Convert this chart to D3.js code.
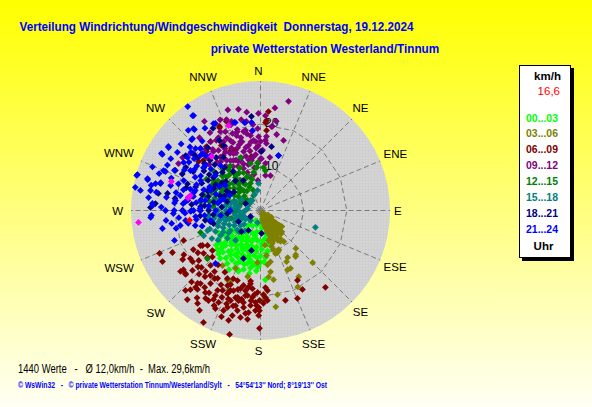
<!DOCTYPE html>
<html><head><meta charset="utf-8">
<script src="https://cdn.jsdelivr.net/npm/d3@7"></script>
<style>html,body{margin:0;padding:0;overflow:hidden;background:#fff}</style>
</head><body>
<svg id="c" width="592" height="407"></svg>
<script>
// ---------- data ----------
const titleText = "Verteilung Windrichtung/Windgeschwindigkeit  Donnerstag, 19.12.2024";
const stationText = "private Wetterstation Westerland/Tinnum";
const compassLabels = ["N","NNE","NE","ENE","E","ESE","SE","SSE","S","SSW","SW","WSW","W","WNW","NW","NNW"];
const ringValues = [10, 20];
const maxSpeed = 30;
const hourLabels = ["00...03","03...06","06...09","09...12","12...15","15...18","18...21","21...24"];
const unitLabel = "km/h";
const currentLabel = "16,6";
const hourUnit = "Uhr";
const statsText = "1440 Werte   -   \u00D8 12,0km/h  -  Max. 29,6km/h";
const creditText = "\u00A9 WsWin32   -   \u00A9 private Wetterstation Tinnum/Westerland/Sylt   -   54\u00B054'13'' Nord; 8\u00B019'13'' Ost";

// [direction deg, speed km/h]
const h00_03 = [[205,2.6],[165,2.5],[185,3],[195,3.5],[175,4],[210,4],[220,4.5],[168,5.5],[180,5],[190,5],[200,5.5],[212,6],[225,6.5],[235,8],[242,11],[240,10],[238,9],[230,7.5],[222,7],[215,7.5],[205,7],[195,7],[185,7],[175,7],[168,8],[170,9.5],[178,9],[186,8.5],[194,8.5],[202,8.5],[210,9],[218,9],[226,9.5],[232,10],[236,11.5],[230,12],[225,11.5],[220,10.5],[212,10.5],[204,10],[196,10],[188,10.5],[180,10.5],[174,11],[183,12],[190,12],[198,11.5],[206,12],[214,12.5],[222,13],[228,13.5],[220,14.5],[212,14.5],[205,13.5],[197,13],[190,13.5],[184,14],[200,15],[208,15.5],[201,14.7],[176,16.1],[186,12.6],[216,11.5],[208,11],[193,11.5],[180,12],[200,9.5],[192,6],[216,5.5],[170,6.5],
  [188,6.8],[196,7.5],[204,7.8],[212,8],[220,8.2],[228,8.8],[186,9.5],[192,9.2],[198,9],[206,9.5],[214,9.8],[222,10],[184,11],[194,10.8],[202,11],[210,11.8],[218,12],[226,12.5],[232,13],[188,12.8],[194,12.6],[202,12.8],[210,13.2],[216,13.6],[224,14],[196,14.2],[204,14.5],[190,14.8],[182,13],[176,12],[172,10],[178,7.8],[236,10],[228,11],[218,6.5],[208,6.8]];
const h03_06 = [[150,0.8],[150,1.6],[148,2.4],[146,3.2],[145,4],[143,4.8],[141,5.6],[140,6.4],[138,7.2],[132,1.5],[131,2.5],[130,3.5],[129,4.5],[128,5.5],[127,6.2],[160,1.5],[158,2.5],[157,3.5],[155,4.5],[154,5.5],[152,6.5],[151,7.4],[168,2],[166,3],[164,4],[162,5],[160,6],[158,7],[120,2],[122,3],[138,3],[136,5],[145,6],[150,8],[142,6.5],[137,12],[141.5,13.1],[158,10.5],[150,12.6],[135,17.1],[150,17.7],[170.7,14.4],[173,15.5],[168.6,19.9],[171,22.6],[178,20.7],[192,21.2],[203,17.9],[205.6,17.8],[183.3,12.1],[191,15.6],[169.3,16.3],[172.6,12.7],[155.4,15.1],[154,19.7],[169,12.1],[155,10],[147,8.5],[139.4,6.4],[142.7,13.4],[155.8,10.2],[165,7.2],[172.6,8.1],[163,8.7],[172.4,10.5],[160.8,10.6],[153,13.3],[152.6,15.1],[203.3,14.6],[214.6,15.5],[201.8,20],
  [149,1.2],[147,2],[146,2.8],[145,3.6],[144,4.4],[142,5.2],[141,6],[139,6.8],[134,1],[133,2],[131,3],[130,4],[129,5],[128,6],[159,1],[159,2],[157,3],[156,4],[155,5],[153,6],[152,7],[167,2.5],[165,3.5],[163,4.5],[161,5.5],[159,6.5],[157,7.5],[140,2],[138,4],[136,6],[135,7],[150,4],[150,5],[149,6],[148,7],[145,8],[143,9],[160,8],[162,9.5]];
const h06_09 = [[247,25.4],[242.5,25.6],[244.5,22.6],[237.8,21.3],[235.6,19.7],[233,19.7],[231,18.4],[239.7,16.1],[236.6,14.7],[226,19],[222,19],[217.6,19],[232.7,23.3],[229.5,22.8],[219.4,21.9],[213.9,22.9],[214.4,20.5],[212.3,18.6],[208.3,21],[207.8,23.3],[214.1,26],[211.4,27.1],[223.2,25.4],[219.4,26.7],[207,29.1],[200.2,26.2],[196.2,26.5],[194,29.6],[189.9,22.8],[188.3,24.1],[186.7,23.8],[188.9,18],[187.8,17.1],[185.9,18.2],[181,24.3],[180.5,27.3],[180.6,20.8],[182,19],[176.3,17.9],[176.7,20.2],[175,18.6],[194.8,20.8],[193.7,21.5],[194.4,18.7],[201.7,17],[198.2,17.1],[200.6,19.8],[194.7,22.8],[198.8,23.7],[198.4,22],[204.5,23.4],[200.3,24.7],[204.7,25],[210,24.1],[222.3,17.2],[217,17.7],[233,16.5],[228.4,16.4],[230.2,14.5],[232.5,22.5],[228.6,21],[220.8,22.3],[221.5,24.5],[218.6,23.4],[205.4,20.5],[203.7,19],[201.7,20.7],[198.6,19.6],[192.8,17.8],[190.6,18.9],[185.3,20.2],[182.4,22],[178.2,21.5],[175.6,20.9],[183.1,21.3],[186,22.1],[188.7,19.9],[164.5,21.6],[152.1,18.3],[152,20.7],[157.2,22.1],[139.8,23.3],[180.6,23.2],[182.9,23.2],[190.5,21.7],[193,23.8],[195,25.2],[190.6,25.2],[186.8,25.4],[239.8,18],[238.9,15.7],[230,22.7],[220.2,23.3],[248.7,19.1],
  [190,20],[192,21],[196,21],[200,21.8],[204,22],[208,22.3],[212,22.5],[216,22],[220,20],[224,20.5],[228,19.5],[196,23],[200,23],[206,24.5],[212,24],[216,25],[224,23],[184,19.5],[186,21],[196,19],[202,18.5],[208,19.5],[214,19],[206,17.5],[210,16.5],[218,16],[226,15.5],[188,16.5],[181,22.5],[178,19.5],[236,17.5],[240,20.5],
  [4.6,23],[3.8,20.9],[3.3,20.4],[4.3,18.6],[333.7,21.4],[319.8,19.4],[317.5,18.5],[329,17.6],[337.4,15.1],[350.5,12.7],[308.3,18.3],[311.3,17.6],[333.4,15.5],[339.1,22.1],[334,21.7],[324,19.7]];
const h09_12 = [[14.4,26.1],[347.7,24],[327.8,24.4],[339.5,22.5],[342,21.7],[350.3,20.7],[358.8,22.5],[358.5,17.1],[4,16.3],[7.5,19.6],[18.2,17.1],[5,15.6],[0,13.7],[349.8,11.8],[342.3,18.2],[347.9,18.7],[352.4,17.5],[343.8,16.6],[336.8,17.6],[331.8,18.1],[327.8,19.2],[324,19.7],[315.9,20],[310.4,20.4],[321.5,17.5],[326,15.4],[334.7,14.6],[344,14.2],[349.5,15.3],[320.8,14.6],[329,13.5],[338.2,12.5],[8.1,19.7],[4.6,17.2],[16,8.4],[1,12],[354.3,16.3],[351,20.9],[349.4,18.9],[343.5,19],[299.8,21.9],[309.2,20.9],[304.2,21.8],[331.6,13.2],[341,9.3],[326.3,8.4],[343,8],[8.1,8.2],[0,12],[335,16],[340,15.5],[345,16.5],[350,14],[355,13],[330,16.5],[325,17],[320,16],[318,15],[322,13],[328,12],[333,11.5],[338,10.5],[345,11],[352,10],[357,11],[340,13],[345,13],[336,12.5],[330,10],[325,11],[315,17.5],[312,16],[335,18.5],[340,19],[330,19.5],[345,17.5],[352,16],[356,14.5],[2,14],[358,19],[355,20],[348,21.5],[333,20.5],[327,21.5],[320,22],[336,23],[342,24.5],[352,23],[3,22],[8,24],[10,21],[12,18],[6,11],[10,12.5],[350,8.5],[355,7],
  [332,15],[337,14.5],[342,16],[347,15],[352,12.5],[356,16],[326,14],[322,18],[318,19],[338,17],[344,19.5],[350,18],[334,13],[340,11.5],[347,12],[331,17],[336,20],[341,21],[329,15.8],[323,15.5],[354,18.5],[0,16],[358,15]];
const h12_15 = [[300,10],[305,9],[310,8],[315,7],[320,6],[325,5.5],[330,7],[335,6],[340,5],[300,7],[295,8.5],[290,10],[285,11],[280,12],[275,11],[270,10],[265,9],[260,8],[270,7],[280,8],[290,6.5],[298,5],[305,4.5],[312,5],[318,9],[325,8.5],[330,10],[320,11],[312,12],[305,12],[298,12.5],[292,13],[285,13.5],[278,14],[300,14.5],[310,14],[318,13],[326,12.5],[334,11],[340,8.5],[345,7.5],[350,9],[355,10],[295,4],[285,5],[275,5.5],[265,6],[255,7],[4,10],[7,9.3],[348,11.1],[334.9,8.2],[339.7,6.7],[302.6,12.9],[339.3,13.1],[356.4,11.1],[322.9,9.6],[335.9,9.6],[313.4,11.8],[299.9,12.6],[307,16.5],[335,3.8],[307.6,3.8],[249.9,14.8],[227.8,16.6],
  [295,10],[300,9],[305,10.5],[310,9.5],[315,9],[320,8],[325,10],[290,12],[295,11.5],[300,12],[308,11],[315,11],[322,12],[285,9.5],[290,8],[280,10.5],[310,6.5],[318,7],[328,7.5],[302,6]];
const h15_18 = [[240,7],[245,8],[250,9],[255,10],[260,11],[265,12],[270,10],[275,9],[280,8],[285,7],[290,6],[260,6],[255,5],[250,4],[240,4],[230,5],[225,7],[230,10],[235,12],[240,13],[245,11.5],[250,12.5],[262,8.5],[268,7],[276,6],[283,10],[290,9.5],[295,8],[300,5],[265,4],[278,3],[300,3],[320,3],[340,4],[235,3],[220,9],[218,6],[245,5],[258,9.5],[272,12],[282,11.1],[194,2.9],[238,10.9],[236.3,8.4],[233.1,5.8],[225,3.3],[270,3.5],[281.3,5.9],[286,8.4],[263.7,10.5],[254,8.4],[248.2,6.2],[315,3.3],[351.5,4.7],[355.8,6.3],[249.3,13.1],[107,13.3],[246,14.4],
  [245,9.5],[250,10.5],[255,7.5],[260,9],[265,10],[270,8],[275,7],[240,10],[235,9],[230,7],[245,6.5],[252,6],[258,4.5],[268,5],[280,5],[288,6.5],[262,12.5]];
const h18_21 = [[290,10],[295,12],[300,14],[305,16],[310,17],[315,15],[320,13],[325,11],[285,12.5],[280,14],[275,16],[270,18],[290,16],[300,18],[310,20],[320,19],[330,22],[300,9],[310,10.5],[320,9],[330,8],[285,8],[275,9],[265,11],[270,14],[295,20],[287,18],[278,20],[315,12.5],[305,11],[9.8,15],[18.1,13.4],[354.5,21.9],[1,13.7],[306.3,21.5],[295.2,21.8],[285.1,24],[279.5,24],[280.4,21.9],[273.8,24.4],[271.6,25.5],[329.6,18.8],[310,19],[330.4,17.3],[305,13.3],[299.5,8],[264.8,7.7],[257.6,11.9],[211,5.4],[243.4,5.7],[239,2.7],[273.8,13.9],[281.8,15.9],[295,3.8],[254.5,11.3],[222,6.6],[192.7,9.5],[199.5,11.8],[177.5,5.3],
  [285,14],[290,13],[295,15],[300,12],[305,14.5],[280,11],[275,13],[270,12],[265,14],[290,18],[300,20],[310,13.5],[315,16.5],[320,16],[325,15],[280,17],[270,16],[260,13],[292,9],[305,7.5]];
const h21_24 = [[304.8,26],[300,26.5],[286.3,29.7],[280.5,29.5],[279.5,28.2],[285.3,27.1],[276.6,26.1],[272.7,25],[284.4,25.1],[285.6,24],[292.3,23.8],[306,20.9],[320.7,24.5],[313.6,20.8],[314.5,18.8],[332.6,22.7],[325,29.4],[324.4,27],[331.6,22.9],[315.8,22.9],[304.4,25.8],[299.7,26.2],[285.8,29.8],[285.8,27.2],[292.4,24.3],[280.3,25.9],[273.7,25.1],[344,21.2],[349.7,20.7],[354.3,18.6],[18.1,13.4],[324.8,26.9],[320.8,24.2],[343.5,21.3],[354.2,20.5],[316.6,22.9],[317.7,17.2],[266.4,25.5],[267.4,25.3],[259.6,23.1],[261.7,20.8],[250.8,21.1],[259.4,18.9],[268,20.2],[220.3,16.1],[276.8,17.5],[264.7,15.1],[269.2,16.2],[296.6,15.5],[291.8,12.5],[284,9.5],[281.9,16.4],[270,13.9],[258.7,11.8],[262.4,17.5],[299.7,18.7],[309.3,16.5],[307.9,13.2],[305.5,10],[262.9,9.3],[270,7],[287.1,15.8],[280.3,13],[291.3,19.1],[280.6,18.9],[270,18.1],[257,15.5],[285.5,21.6],[276.7,19.8],[270,22],[270,10.4],[312.5,18.9],[318.4,13.9],[275,12],[280,14],[285,16],[290,14],[295,13],[300,16],[305,18],[310,15],[300,11],[290,11],[280,10],[275,18],[270,20],[265,19],[260,17],[255,14],[288,20],[295,22],[305,23.5],[312,22],[320,21],[278,22],[283,26],[292,27],[296,24],[302,21],[308,19.5],[315,18],[287,9],[296,8],
  [272,14],[277,15],[282,16],[287,17],[292,16],[297,17],[302,18],[307,16.5],[265,13],[270,15.5],[275,20],[282,20],[290,22],[298,20],[304,20],[310,21],[316,20],[285,18.5],[278,17],[268,17.5],[262,15],[258,20],[264,22],[272,23],[280,24.5],[290,25],[300,24],[310,24],[318,25],[326,23]];
const peaks = [[264.4,28.4],[288,21.7],[279.8,17],[339.4,21],[282,16.6],[317.8,16.9]];
const current = [[262.2,16.6]];

// ---------- styles ----------
const series = [h00_03,h03_06,h06_09,h09_12,h12_15,h15_18,h18_21,h21_24];
const seriesColors = ["#00FF00","#808000","#800000","#800080","#008000","#008080","#000080","#0000FF"];
const FONT = "'Liberation Sans', Arial, sans-serif";

const svg = d3.select("#c");
const defs = svg.append("defs");
const grad = defs.append("linearGradient").attr("id","bg").attr("x1",0).attr("y1",0).attr("x2",0).attr("y2",1);
grad.append("stop").attr("offset","0%").attr("stop-color","#FFFF00");
grad.append("stop").attr("offset","100%").attr("stop-color","#FFFFF4");
const pat = defs.append("pattern").attr("id","dots").attr("width",3).attr("height",3).attr("patternUnits","userSpaceOnUse");
pat.append("rect").attr("width",3).attr("height",3).attr("fill","#CFCFCF");
pat.append("rect").attr("x",1).attr("y",1).attr("width",1).attr("height",1).attr("fill","#E6E6E6");
svg.append("rect").attr("width",592).attr("height",407).attr("fill","url(#bg)");

// titles
svg.append("text").attr("x",19.5).attr("y",30.5).attr("font-family",FONT).attr("font-weight","bold")
  .attr("font-size",13.5).attr("fill","#0000FF").style("white-space","pre")
  .attr("textLength",394).attr("lengthAdjust","spacingAndGlyphs").text(titleText);
svg.append("text").attr("x",210.7).attr("y",53).attr("font-family",FONT).attr("font-weight","bold")
  .attr("font-size",13.5).attr("fill","#0000FF")
  .attr("textLength",228.5).attr("lengthAdjust","spacingAndGlyphs").text(stationText);

// polar plot
const cx = 260.5, cy = 210.5, R = 129.5;
const r = d3.scaleLinear().domain([0, maxSpeed]).range([0, R]);
const ang = d3.scaleLinear().domain([0, 360]).range([0, 2*Math.PI]);
const plot = svg.append("g").attr("transform",`translate(${cx},${cy})`);
plot.append("circle").attr("r", R).attr("fill","url(#dots)");

const dirs = d3.range(16).map(i => i*22.5);
plot.selectAll("line.spoke").data(dirs).join("line").attr("class","spoke")
  .attr("x1",0).attr("y1",0)
  .attr("x2",d => d3.pointRadial(ang(d), R)[0])
  .attr("y2",d => d3.pointRadial(ang(d), R)[1])
  .attr("stroke","#7A7A7A").attr("stroke-width",1).attr("stroke-dasharray","5,3");
plot.selectAll("path.ring").data(ringValues).join("path").attr("class","ring")
  .attr("d", v => d3.line()(dirs.map(a => d3.pointRadial(ang(a), r(v)))) + "Z")
  .attr("fill","none").attr("stroke","#7A7A7A").attr("stroke-width",1).attr("stroke-dasharray","5,3");
plot.selectAll("text.ringlbl").data(ringValues).join("text").attr("class","ringlbl")
  .attr("x",4.5).attr("y",v => -r(v) + 2.5)
  .attr("font-family",FONT).attr("font-size",12).attr("fill","#000").text(v => v);

// compass labels
const lblC = [cx - 2, cy];
compassLabels.forEach((t, i) => {
  const a = ang(i*22.5);
  const el = svg.append("text").attr("font-family",FONT).attr("font-size",11.5).attr("fill","#000")
    .attr("text-anchor","middle").attr("dominant-baseline","central").text(t);
  const w = el.node().getComputedTextLength();
  const d = 135.5 + (w/2)*Math.abs(Math.sin(a)) + 4.5*Math.abs(Math.cos(a));
  el.attr("x", lblC[0] + d*Math.sin(a)).attr("y", lblC[1] - d*Math.cos(a));
});

// points
const sym = d3.symbol(d3.symbolSquare, 23);
function pos(d){ const p = d3.pointRadial(ang(d[0]), r(Math.min(d[1], maxSpeed))); return `translate(${p[0]},${p[1]}) rotate(45)`; }
series.forEach((data, i) => {
  plot.append("g").selectAll("path").data(data).join("path")
    .attr("d", sym).attr("transform", pos).attr("fill", seriesColors[i]);
});
plot.append("g").selectAll("path").data(peaks).join("path").attr("d", sym).attr("transform", pos).attr("fill","#FF00FF");
plot.append("g").selectAll("path").data(current).join("path").attr("d", sym).attr("transform", pos).attr("fill","#FF0000");

// legend
const lg = svg.append("g");
lg.append("rect").attr("x",522).attr("y",68).attr("width",52).attr("height",193).attr("fill","#000");
lg.append("rect").attr("x",519.5).attr("y",65.5).attr("width",51).attr("height",192).attr("fill","#fff").attr("stroke","#000").attr("stroke-width",1);
lg.append("text").attr("x",547.5).attr("y",80).attr("text-anchor","middle").attr("font-family",FONT)
  .attr("font-weight","bold").attr("font-size",11.5).attr("fill","#000").text(unitLabel);
lg.append("text").attr("x",560).attr("y",94.5).attr("text-anchor","end").attr("font-family",FONT)
  .attr("font-size",11.5).attr("fill","#FF0000").text(currentLabel);
lg.selectAll("text.hr").data(hourLabels).join("text").attr("class","hr")
  .attr("x",526).attr("y",(d,i) => 121.5 + i*15.95).attr("font-family",FONT).attr("font-weight","bold")
  .attr("font-size",11).attr("fill",(d,i) => seriesColors[i])
  .attr("textLength",32).attr("lengthAdjust","spacingAndGlyphs").text(d => d);
lg.append("text").attr("x",543.5).attr("y",250).attr("text-anchor","middle").attr("font-family",FONT)
  .attr("font-weight","bold").attr("font-size",11.5).attr("fill","#000").text(hourUnit);

// footer
svg.append("text").attr("x",18).attr("y",373).attr("font-family",FONT).attr("font-size",12).attr("fill","#000")
  .style("white-space","pre").attr("textLength",192).attr("lengthAdjust","spacingAndGlyphs").text(statsText);
svg.append("text").attr("x",18).attr("y",388).attr("font-family",FONT).attr("font-size",8.5).attr("font-weight","bold")
  .attr("fill","#0000FF").style("white-space","pre").attr("textLength",309).attr("lengthAdjust","spacingAndGlyphs").text(creditText);
</script>
</body></html>
